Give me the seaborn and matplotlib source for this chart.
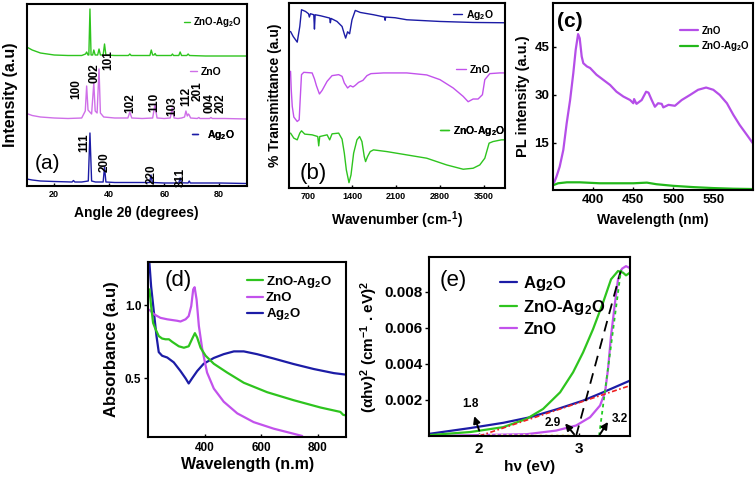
import matplotlib
matplotlib.use("Agg")
import matplotlib.pyplot as plt
import seaborn as sns

# ---------------- colours ----------------
BLUE = "#1c1ca6"
GREEN = "#2ec41e"
MAGENTA = "#c252ec"

# ---------------- (a) XRD ----------------
xrd_ag2o_x = [10, 12, 15, 20, 26.5, 27, 27.5, 30, 32.4, 33.0, 33.6, 35, 37.8, 38.3, 38.8, 42, 50,
              54.7, 55.2, 55.7, 60, 65.3, 65.8, 66.3, 68.7, 69.1, 69.5, 75, 80, 90]
xrd_ag2o_y = [7, 6, 5, 4.5, 4, 5.5, 4, 4, 5, 53, 5, 4, 4, 19, 4, 3.5, 3.5,
              3.5, 11, 3.5, 3, 3, 8, 3.2, 3, 5, 3, 3, 3, 2.5]

xrd_zno_x = [10, 12, 15, 20, 25, 30, 31.3, 31.8, 32.3, 33.6, 34.4, 34.9, 35.6, 36.3, 36.8, 38, 42,
             46.8, 47.5, 48.2, 52, 55.8, 56.6, 57.4, 60, 62.2, 62.9, 63.6, 65, 66.3, 67.4, 67.9,
             68.4, 68.8, 69.1, 69.6, 72, 72.6, 73, 76.5, 77, 77.5, 82, 90]
xrd_zno_y = [72.5, 70.5, 69, 68, 67.5, 68, 75, 100, 76, 72, 103, 75, 73, 117, 73, 69, 68,
             68, 74, 68, 67.5, 68, 81, 68, 67.5, 68, 78, 68, 67.5, 68, 69, 75,
             70, 72, 71, 68, 67.5, 68.5, 67.5, 67.5, 68.5, 67.5, 67.5, 67]

xrd_mix_x = [10, 12, 15, 20, 25, 30, 31.4, 31.8, 32.3, 32.6, 33.0, 33.4, 34.0, 34.4, 34.9, 35.8,
             36.3, 36.8, 37.8, 38.3, 38.8, 42, 47, 47.5, 48, 52, 54.8, 55.3, 55.8, 56.3, 56.7,
             57.1, 60, 62.6, 63.0, 63.4, 65.3, 65.8, 66.3, 68.2, 68.7, 69.2, 75, 80, 90]
xrd_mix_y = [139, 136, 133, 131, 130.5, 130.5, 132, 134, 131, 131, 177, 131, 131, 136, 131, 131,
             137, 131, 131, 142, 131, 130.5, 130.5, 132, 130.5, 130.5, 130.5, 136, 131, 131, 132.5,
             130.5, 130.5, 130.5, 132, 130.5, 130.5, 134, 130.5, 130.5, 132, 130.5, 130, 130, 130]

zno_hkl = ["100", "002", "101", "102", "110", "103", "112", "201", "004", "202"]
zno_hkl_x = [28.1, 34.5, 39.5, 47.8, 56.4, 62.9, 68.1, 72.0, 76.5, 80.7]
zno_hkl_y = [97, 113, 126, 83, 84, 80, 90, 95, 83, 83]
ag2o_hkl = ["111", "200", "220", "311"]
ag2o_hkl_x = [30.9, 38.4, 55.3, 65.9]
ag2o_hkl_y = [43, 24, 12, 9]

# ---------------- (b) FTIR ----------------
ftir_ag2o_x = [420, 462, 526, 567, 594, 657, 705, 719, 736, 789, 800, 811, 895, 1042, 1053, 1064,
               1159, 1239, 1275, 1296, 1327, 1359, 1397, 1449, 1528, 1739, 1915, 1924, 1933, 2083,
               2268, 2796, 3323, 3830]
ftir_ag2o_y = [156.3, 151.3, 145.7, 161.3, 178, 176.3, 174, 170.7, 174, 173, 158.7, 173, 172, 169.7,
               165, 169.3, 166.3, 161.3, 153.7, 149.7, 156, 154, 168, 177.3, 175.3, 173, 170.7,
               167.5, 170.7, 170, 168, 166.3, 165.3, 165]

ftir_zno_x = [420, 431, 447, 472, 526, 557, 573, 594, 630, 763, 800, 831, 879, 922, 1001, 1080,
              1185, 1239, 1275, 1327, 1370, 1413, 1449, 1502, 1571, 1635, 1698, 1898, 2268, 2585,
              2796, 3006, 3165, 3244, 3323, 3402, 3471, 3509, 3588, 3746, 3830]
ftir_zno_y = [116.6, 98.3, 81.6, 71, 66.6, 68.3, 88.3, 113.3, 115.6, 115, 109, 102.3, 94, 97.6,
              106.6, 112.3, 113.3, 111.6, 105, 100, 102.3, 101, 102.6, 105.6, 107.6, 112.3, 114.3,
              115, 115, 113, 108.3, 100, 91.6, 86.3, 89, 89, 93.3, 108.3, 114.3, 115, 115]

ftir_mix_x = [420, 472, 526, 567, 594, 646, 763, 852, 868, 884, 1001, 1042, 1080, 1185, 1239, 1275,
              1307, 1349, 1381, 1423, 1476, 1518, 1555, 1592, 1613, 1644, 1687, 1739, 1951, 2268,
              2585, 2902, 3165, 3323, 3429, 3509, 3577, 3640, 3773, 3830]
ftir_mix_y = [55, 50, 48.3, 55, 57.3, 54, 53.3, 51.6, 42.3, 51.6, 53.3, 48.3, 54.3, 55, 49, 35,
              18.3, 5.6, 13.3, 35, 48.3, 51.6, 46.6, 31.6, 26.6, 31.6, 36.6, 38.3, 36.6, 33.3,
              30, 23.3, 19, 20, 23.3, 30, 45, 46.6, 48.3, 48.3]

# ---------------- (c) PL ----------------
pl_zno_x = [351, 354, 358, 362.5, 366.7, 371, 375, 378, 381, 383, 385.5, 387.5, 392, 396, 404,
            412.5, 421, 429, 437.5, 446, 450, 451, 454, 460.5, 466, 469, 473, 477, 481, 485.5,
            487.5, 494, 502, 510.5, 521, 531, 541, 550, 558, 567, 575, 583, 592, 600]
pl_zno_y = [2.5, 4.4, 7.5, 12.7, 21, 28.3, 36.7, 44, 48.9, 47.6, 41.9, 39.8, 38.8, 38.3, 36.2,
            34.6, 33, 30.9, 29.4, 28.3, 27.3, 28.6, 27.1, 28.3, 30.9, 30.6, 28.3, 26.2, 27.3, 27.1,
            26, 26.8, 26.5, 28.3, 29.9, 31.5, 32.2, 31.5, 29.9, 27.3, 23.7, 20.5, 17.4, 14.6]
pl_mix_x = [351, 356, 367, 383, 408, 429, 450, 467, 479, 500, 525, 550, 575, 600]
pl_mix_y = [1.8, 2.3, 2.6, 2.6, 2.3, 2.3, 2.3, 2.5, 2.0, 1.5, 1.1, 0.8, 0.6, 0.5]

# ---------------- (d) UV-Vis ----------------
uv_ag2o_x = [204, 210, 220, 229, 237, 249, 267, 290, 314, 332, 343, 355, 373, 396, 432, 467, 503,
             538, 585, 644, 715, 786, 857, 902]
uv_ag2o_y = [1.29, 1.13, 0.95, 0.79, 0.68, 0.655, 0.643, 0.61, 0.55, 0.50, 0.465, 0.50, 0.55,
             0.60, 0.64, 0.666, 0.685, 0.685, 0.666, 0.636, 0.598, 0.564, 0.536, 0.525]
uv_zno_x = [204, 220, 243, 267, 302, 314, 332, 343, 352, 359, 364, 371, 379, 391, 408, 432, 467,
            515, 573, 644, 715, 745]
uv_zno_y = [0.97, 0.94, 0.915, 0.905, 0.895, 0.89, 0.905, 0.927, 0.995, 1.11, 1.125, 1.04, 0.86,
            0.70, 0.54, 0.43, 0.34, 0.26, 0.20, 0.155, 0.12, 0.105]
uv_mix_x = [204, 210, 217, 225, 237, 249, 261, 273, 285, 308, 326, 343, 355, 365, 373, 385, 403,
            432, 479, 538, 621, 715, 810, 880, 890, 902]
uv_mix_y = [1.11, 0.995, 0.88, 0.84, 0.79, 0.773, 0.768, 0.768, 0.75, 0.72, 0.71, 0.72, 0.77,
            0.81, 0.78, 0.71, 0.655, 0.60, 0.54, 0.47, 0.405, 0.35, 0.30, 0.27, 0.25, 0.245]

# ---------------- (e) Tauc ----------------
tauc_ag2o_x = [1.5, 1.91, 2.24, 2.51, 2.77, 3.04, 3.24, 3.51]
tauc_ag2o_y = [0.00012, 0.00044, 0.00073, 0.00104, 0.00147, 0.00196, 0.00242, 0.00307]
tauc_mix_x = [1.5, 1.91, 2.24, 2.475, 2.64, 2.81, 2.94, 3.04, 3.14, 3.24, 3.32, 3.39, 3.44, 3.47, 3.51]
tauc_mix_y = [0.00005, 0.00022, 0.00049, 0.00095, 0.0015, 0.00242, 0.00353, 0.00463, 0.00592,
              0.00739, 0.00868, 0.00914, 0.00905, 0.0089, 0.00905]
tauc_zno_x = [1.5, 2.475, 2.77, 2.97, 3.11, 3.21, 3.26, 3.29, 3.32, 3.36, 3.39, 3.43, 3.47, 3.51]
tauc_zno_y = [0.0, 0.0001, 0.0003, 0.00058, 0.00104, 0.00169, 0.00242, 0.00371, 0.00555, 0.00739,
              0.00868, 0.00927, 0.00941, 0.0093]
fit_black_x = [2.97, 3.42]
fit_black_y = [0.0, 0.0092]
fit_green_x = [3.2, 3.42]
fit_green_y = [0.0, 0.0092]
fit_red_x = [2.0, 3.51]
fit_red_y = [0.0, 0.00279]
fit_yellow_x = [2.0, 2.95]
fit_yellow_y = [0.00005, 0.00005]
gap_labels = ["1.8", "2.9", "3.2"]
gap_text_x = [1.91, 2.74, 3.41]
gap_text_y = [0.00178, 0.00073, 0.00095]
gap_tail_x = [2.0, 2.95, 3.21]
gap_tail_y = [0.0003, 0.0001, 0.0001]
gap_head_x = [1.95, 2.86, 3.29]
gap_head_y = [0.0011, 0.0007, 0.00078]

# ---------------- style ----------------
sns.set_theme(style="ticks")
plt.rcParams.update({
    "font.family": ["Liberation Sans", "DejaVu Sans"],
    "font.weight": "bold",
    "axes.labelweight": "bold",
    "mathtext.default": "regular",
    "axes.edgecolor": "black",
    "axes.linewidth": 1.5,
    "xtick.color": "black",
    "ytick.color": "black",
    "text.color": "black",
    "axes.labelcolor": "black",
})

W, H = 756, 478
fig = plt.figure(figsize=(W / 100, H / 100), dpi=100)


def rect(x1, y1, x2, y2):
    return [x1 / W, 1 - y2 / H, (x2 - x1) / W, (y2 - y1) / H]


def draw(ax, x, y, color, lw, **kw):
    sns.lineplot(x=x, y=y, ax=ax, color=color, linewidth=lw, sort=False,
                 estimator=None, legend=False, **kw)
    return ax.lines[-1]


def tag(ax, line, text, x, y, fs, hl, pad=0.3):
    leg = ax.legend([line], [text], loc="center left", bbox_to_anchor=(x, y),
                    frameon=False, fontsize=fs, handlelength=hl, handletextpad=pad,
                    borderpad=0, borderaxespad=0)
    ax.add_artist(leg)


AG = "Ag$_2$O"
MIX = "ZnO-Ag$_2$O"

# ---------- (a) ----------
ax = fig.add_axes(rect(26.7, 4, 246.7, 186))
la = draw(ax, xrd_ag2o_x, xrd_ag2o_y, BLUE, 1.0)
lz = draw(ax, xrd_zno_x, xrd_zno_y, "#cf6fe8", 1.0)
lm = draw(ax, xrd_mix_x, xrd_mix_y, GREEN, 1.0)
ax.set_xlim(10, 90)
ax.set_ylim(0, 182)
ax.set_xticks([20, 40, 60, 80])
ax.set_yticks([])
ax.tick_params(axis="x", labelsize=6.5, length=2, width=1, direction="in", pad=3)
ax.set_xlabel("Angle 2θ (degrees)", fontsize=10, labelpad=5)
ax.set_ylabel("Intensity (a.u)", fontsize=11.5, labelpad=6)
for s, x, y in zip(zno_hkl, zno_hkl_x, zno_hkl_y):
    ax.text(x, y, s, rotation=90, ha="center", va="center", fontsize=8.5)
for s, x, y in zip(ag2o_hkl, ag2o_hkl_x, ag2o_hkl_y):
    ax.text(x, y, s, rotation=90, ha="center", va="center", fontsize=8.5)
ax.text(0.094, 0.125, "(a)", transform=ax.transAxes, ha="center", va="center",
        fontsize=15, fontweight="normal")
tag(ax, lm, MIX, 0.715, 0.90, 7, 0.6)
tag(ax, lz, "ZnO", 0.743, 0.626, 7.5, 0.7)
tag(ax, la, AG, 0.75, 0.28, 7.5, 0.6, pad=0.9)

# ---------- (b) ----------
ax = fig.add_axes(rect(289.3, 2.7, 505, 188.3))
lb1 = draw(ax, ftir_ag2o_x, ftir_ag2o_y, BLUE, 1.0)
lb2 = draw(ax, ftir_zno_x, ftir_zno_y, MAGENTA, 1.0)
lb3 = draw(ax, ftir_mix_x, ftir_mix_y, GREEN, 1.0)
ax.set_xlim(400, 3830)
ax.set_ylim(0, 185)
ax.set_xticks([700, 1400, 2100, 2800, 3500])
ax.set_yticks([])
ax.tick_params(axis="x", labelsize=6.5, length=2, width=1, direction="in", pad=3)
ax.set_xlabel("Wavenumber (cm-$^{1}$)", fontsize=10, labelpad=6)
ax.set_ylabel("% Transmittance (a.u)", fontsize=10, labelpad=5)
ax.text(0.112, 0.082, "(b)", transform=ax.transAxes, ha="center", va="center",
        fontsize=16, fontweight="normal")
tag(ax, lb1, AG, 0.759, 0.934, 7.5, 0.9)
tag(ax, lb2, "ZnO", 0.773, 0.637, 7.5, 1.0)
tag(ax, lb3, MIX, 0.699, 0.31, 7.5, 0.9)

# ---------- (c) ----------
ax = fig.add_axes(rect(553.3, 2.7, 753.3, 190))
lc1 = draw(ax, pl_zno_x, pl_zno_y, "#b54ee8", 1.6)
lc2 = draw(ax, pl_mix_x, pl_mix_y, "#22b81a", 1.6)
ax.set_xlim(350, 600)
ax.set_ylim(0.2, 58.7)
ax.set_xticks([400, 450, 500, 550])
ax.set_yticks([15, 30, 45])
ax.tick_params(labelsize=9.5, length=2.5, width=1, direction="in", pad=3)
ax.set_xlabel("Wavelength (nm)", fontsize=10, labelpad=5)
ax.set_ylabel("PL intensity (a.u.)", fontsize=10.5, labelpad=3)
ax.text(0.083, 0.9, "(c)", transform=ax.transAxes, ha="center", va="center",
        fontsize=15, fontweight="bold")
ax.legend([lc1, lc2], ["ZnO", MIX], loc="center left", bbox_to_anchor=(0.633, 0.805),
          frameon=False, fontsize=7, handlelength=1.9, handletextpad=0.3,
          borderpad=0, borderaxespad=0, labelspacing=0.35)

# ---------- (d) ----------
ax = fig.add_axes(rect(148.3, 261.7, 346, 436.7))
ld3 = draw(ax, uv_ag2o_x, uv_ag2o_y, BLUE, 1.6)
ld2 = draw(ax, uv_zno_x, uv_zno_y, MAGENTA, 1.6)
ld1 = draw(ax, uv_mix_x, uv_mix_y, GREEN, 1.6)
ax.set_xlim(200, 900)
ax.set_ylim(0.1, 1.3)
ax.set_xticks([400, 600, 800])
ax.set_yticks([0.5, 1.0])
ax.tick_params(axis="x", labelsize=8.5, length=2.5, width=1, direction="in", pad=4)
ax.tick_params(axis="y", labelsize=8.5, length=3, width=1, direction="out", pad=2)
ax.set_xlabel("Wavelength (n.m)", fontsize=11.5, labelpad=2)
ax.set_ylabel("Absorbance (a.u)", fontsize=12, labelpad=4)
ax.text(0.153, 0.895, "(d)", transform=ax.transAxes, ha="center", va="center",
        fontsize=16, fontweight="normal")
ax.legend([ld1, ld2, ld3], [MIX, "ZnO", AG], loc="center left", bbox_to_anchor=(0.5, 0.792),
          frameon=False, fontsize=9.5, handlelength=1.2, handletextpad=0.2,
          borderpad=0, borderaxespad=0, labelspacing=0.15)

# ---------- (e) ----------
ax = fig.add_axes(rect(429.3, 257.3, 630, 436))
le1 = draw(ax, tauc_ag2o_x, tauc_ag2o_y, BLUE, 1.6)
le3 = draw(ax, tauc_zno_x, tauc_zno_y, MAGENTA, 1.6)
le2 = draw(ax, tauc_mix_x, tauc_mix_y, GREEN, 1.6)
sns.lineplot(x=fit_yellow_x, y=fit_yellow_y, ax=ax, color="#f3efb0", linewidth=1.5,
             linestyle=":", legend=False)
sns.lineplot(x=fit_red_x, y=fit_red_y, ax=ax, color="#ee2222", linewidth=1.2,
             linestyle=(0, (3, 1.5, 1, 1.5)), legend=False)
sns.lineplot(x=fit_black_x, y=fit_black_y, ax=ax, color="black", linewidth=1.3,
             linestyle=(0, (6, 4)), legend=False)
sns.lineplot(x=fit_green_x, y=fit_green_y, ax=ax, color="#22cc22", linewidth=1.3,
             linestyle=(0, (2, 2)), legend=False)
ax.set_xlim(1.5, 3.51)
ax.set_ylim(0, 0.0099)
ax.set_xticks([2, 3])
ax.set_yticks([0.002, 0.004, 0.006, 0.008])
ax.set_yticklabels(["0.002", "0.004", "0.006", "0.008"])
ax.tick_params(axis="x", labelsize=11, length=2.5, width=1, direction="in", pad=4)
ax.tick_params(axis="y", labelsize=11, length=3, width=1, direction="out", pad=2)
ax.set_xlabel("hν (eV)", fontsize=11, labelpad=3)
ax.set_ylabel("(αhν)$^2$ (cm$^{-1}$ . eV)$^2$", fontsize=11, labelpad=3)
ax.text(0.12, 0.87, "(e)", transform=ax.transAxes, ha="center", va="center",
        fontsize=16, fontweight="normal")
for s, tx, ty, x0, y0, x1, y1 in zip(gap_labels, gap_text_x, gap_text_y, gap_tail_x,
                                     gap_tail_y, gap_head_x, gap_head_y):
    ax.text(tx, ty, s, ha="center", va="center", fontsize=8.5)
    ax.annotate("", xy=(x1, y1), xytext=(x0, y0),
                arrowprops=dict(arrowstyle="-|>", color="black", lw=1.4,
                                mutation_scale=10, shrinkA=0, shrinkB=0))
ax.legend([le1, le2, le3], [AG, MIX, "ZnO"], loc="center left", bbox_to_anchor=(0.352, 0.733),
          frameon=False, fontsize=12, handlelength=1.0, handletextpad=0.4,
          borderpad=0, borderaxespad=0, labelspacing=0.3)

for a in fig.axes:
    for sp in a.spines.values():
        sp.set_visible(True)
        sp.set_color("black")
        sp.set_linewidth(1.5)

fig.savefig("out.png", dpi=100)
